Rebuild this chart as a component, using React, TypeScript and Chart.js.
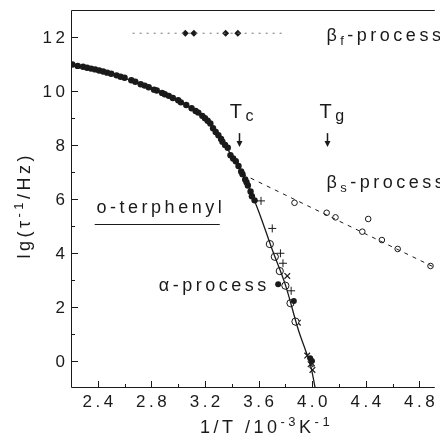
import React, { useEffect, useRef } from "react";
import { Chart, registerables } from "chart.js";
Chart.register(...registerables);

// ---- axis ticks ----
const xTicks = [2.4, 2.8, 3.2, 3.6, 4.0, 4.4, 4.8];
const xTickLabels = ["2.4", "2.8", "3.2", "3.6", "4.0", "4.4", "4.8"];
const xMinorTicks = [2.6, 3.0, 3.4, 3.8, 4.2, 4.6];
const yTicks = [0, 2, 4, 6, 8, 10, 12];
const yTickLabels = ["0", "2", "4", "6", "8", "10", "12"];
const yMinorTicks = [1, 3, 5, 7, 9, 11];

// ---- alpha process: VFT-like fit line ----
const alphaLineX = [2.2, 2.3, 2.4, 2.5, 2.6, 2.7, 2.8, 2.9, 3.0, 3.1, 3.2, 3.3, 3.4, 3.5, 3.6, 3.7, 3.8, 3.9, 3.95, 3.99, 4.022];
const alphaLineY = [11.0, 10.88, 10.76, 10.62, 10.48, 10.29, 10.09, 9.88, 9.64, 9.34, 8.97, 8.36, 7.6, 6.74, 5.55, 4.15, 2.82, 1.1, 0.4, -0.2, -1.0];

// ---- alpha process: filled circles (high temperature) ----
const alphaPtsX = [2.21, 2.25, 2.29, 2.32, 2.35, 2.38, 2.41, 2.44, 2.47, 2.50, 2.54, 2.57, 2.60, 2.65, 2.68, 2.72, 2.75, 2.78, 2.82, 2.84, 2.88, 2.90, 2.93, 2.96, 3.00, 3.02, 3.06, 3.10, 3.13, 3.15, 3.18, 3.20, 3.22, 3.24, 3.26, 3.28, 3.30, 3.32, 3.33, 3.35, 3.37, 3.39, 3.41, 3.43, 3.45, 3.47, 3.48, 3.50, 3.51, 3.52, 3.54, 3.55, 3.57];
const alphaPtsY = [10.98, 10.93, 10.90, 10.86, 10.83, 10.80, 10.76, 10.72, 10.68, 10.64, 10.58, 10.53, 10.49, 10.40, 10.34, 10.25, 10.20, 10.14, 10.05, 10.02, 9.93, 9.88, 9.82, 9.74, 9.66, 9.58, 9.48, 9.36, 9.26, 9.20, 9.08, 8.99, 8.90, 8.80, 8.62, 8.48, 8.36, 8.22, 8.12, 8.00, 7.90, 7.62, 7.50, 7.40, 7.22, 7.02, 6.92, 6.72, 6.62, 6.50, 6.28, 6.10, 5.95];

// ---- alpha process: low temperature data sets ----
const lowFilledX = [3.746, 3.863, 3.985, 3.998];
const lowFilledY = [2.84, 2.22, 0.10, 0.0];
const plusX = [3.618, 3.702, 3.763, 3.782, 3.843];
const plusY = [5.93, 4.91, 3.99, 3.62, 2.60];
const circPlusX = [3.684, 3.721, 3.758, 3.80, 3.838, 3.875];
const circPlusY = [4.33, 3.86, 3.33, 2.79, 2.14, 1.46];
const crossX = [3.814, 3.893, 3.963, 3.988, 3.998, 4.002];
const crossY = [3.15, 1.42, 0.20, -0.12, -0.09, -0.33];

// ---- beta_s process ----
const betaSX = [3.868, 4.108, 4.174, 4.418, 4.374, 4.52, 4.638, 4.883];
const betaSY = [5.86, 5.49, 5.32, 5.26, 4.79, 4.48, 4.15, 3.52];
const betaSLineX = [3.48, 4.92];
const betaSLineY = [6.92, 3.45];

// ---- beta_f process ----
const betaFX = [3.053, 3.117, 3.354, 3.445];
const betaFY = [12.14, 12.14, 12.14, 12.14];
const betaFLineX = [2.66, 3.78];
const betaFLineY = [12.14, 12.14];

// ---- annotations (data coordinates) ----
const Tc = 3.451;
const Tg = 4.113;

const INK = "#1a1a1a";
const FONT = "'Liberation Sans', Arial, sans-serif";
const LS = 3.5;

const pts = (xs: number[], ys: number[]) => xs.map((x, i) => ({ x, y: ys[i] }));

type Run = { t: string; size: number; dy: number };

function runsWidth(ctx: CanvasRenderingContext2D, runs: Run[]) {
  let w = 0;
  for (const r of runs) {
    ctx.font = `${r.size}px ${FONT}`;
    w += ctx.measureText(r.t).width;
  }
  return w - LS;
}

function drawRuns(ctx: CanvasRenderingContext2D, runs: Run[], x: number, y: number) {
  let cx = x;
  for (const r of runs) {
    ctx.font = `${r.size}px ${FONT}`;
    ctx.fillText(r.t, cx, y + r.dy);
    cx += ctx.measureText(r.t).width;
  }
}

const decoPlugin = {
  id: "deco",
  afterDatasetsDraw(chart: any) {
    const { ctx, chartArea, scales } = chart;
    const { left, right, top, bottom } = chartArea;
    const xs = scales.x;
    const ys = scales.y;
    ctx.save();
    (ctx as any).letterSpacing = LS + "px";
    ctx.strokeStyle = INK;
    ctx.fillStyle = INK;
    ctx.lineWidth = 1;
    ctx.textAlign = "left";
    ctx.textBaseline = "alphabetic";

    // frame
    ctx.beginPath();
    ctx.moveTo(right, top + 0.5);
    ctx.lineTo(left + 0.5, top + 0.5);
    ctx.lineTo(left + 0.5, bottom - 0.5);
    ctx.lineTo(right, bottom - 0.5);
    ctx.stroke();

    // ticks (inward)
    ctx.beginPath();
    for (const v of xTicks) {
      const p = Math.round(xs.getPixelForValue(v)) + 0.5;
      ctx.moveTo(p, bottom);
      ctx.lineTo(p, bottom - 7);
    }
    for (const v of xMinorTicks) {
      const p = Math.round(xs.getPixelForValue(v)) + 0.5;
      ctx.moveTo(p, bottom);
      ctx.lineTo(p, bottom - 4);
    }
    for (const v of yTicks) {
      const p = Math.round(ys.getPixelForValue(v)) + 0.5;
      ctx.moveTo(left, p);
      ctx.lineTo(left + 7, p);
    }
    for (const v of yMinorTicks) {
      const p = Math.round(ys.getPixelForValue(v)) + 0.5;
      ctx.moveTo(left, p);
      ctx.lineTo(left + 4, p);
    }
    ctx.stroke();

    // tick labels
    ctx.font = `17px ${FONT}`;
    xTicks.forEach((v, i) => {
      const t = xTickLabels[i];
      const w = ctx.measureText(t).width - LS;
      ctx.fillText(t, xs.getPixelForValue(v) - w / 2, bottom + 19);
    });
    yTicks.forEach((v, i) => {
      const t = yTickLabels[i];
      const w = ctx.measureText(t).width - LS;
      ctx.fillText(t, left - 6 - w, ys.getPixelForValue(v) + 6);
    });

    // x axis title
    drawRuns(
      ctx,
      [
        { t: "1/T /10", size: 18, dy: 0 },
        { t: "-3", size: 13, dy: -7 },
        { t: "K", size: 18, dy: 0 },
        { t: "-1", size: 13, dy: -7 },
      ],
      200,
      433
    );

    // y axis title (rotated)
    const yRuns: Run[] = [
      { t: "lg(τ", size: 18, dy: 0 },
      { t: "-1", size: 13, dy: -7 },
      { t: "/Hz)", size: 18, dy: 0 },
    ];
    const yw = runsWidth(ctx, yRuns);
    ctx.save();
    ctx.translate(30, 207);
    ctx.rotate(-Math.PI / 2);
    drawRuns(ctx, yRuns, -yw / 2, 0);
    ctx.restore();

    const px = (v: number) => xs.getPixelForValue(v);
    const py = (v: number) => ys.getPixelForValue(v);

    // process labels
    drawRuns(ctx, [{ t: "β", size: 18, dy: 0 }, { t: "f", size: 13, dy: 4 }, { t: "-process", size: 18, dy: 0 }], px(4.106), py(11.85));
    drawRuns(ctx, [{ t: "β", size: 18, dy: 0 }, { t: "s", size: 13, dy: 4 }, { t: "-process", size: 18, dy: 0 }], px(4.106), py(6.41));
    drawRuns(ctx, [{ t: "o-terphenyl", size: 18, dy: 0 }], px(2.391), py(5.48));
    drawRuns(ctx, [{ t: "α-process", size: 18, dy: 0 }], px(2.855), py(2.59));

    // underline
    ctx.beginPath();
    ctx.moveTo(px(2.377), Math.round(py(5.07)) + 0.5);
    ctx.lineTo(px(3.31), Math.round(py(5.07)) + 0.5);
    ctx.stroke();

    // Tc / Tg labels
    drawRuns(ctx, [{ t: "T", size: 20, dy: 0 }, { t: "c", size: 16, dy: 3 }], px(3.392) - 1, py(9.0));
    drawRuns(ctx, [{ t: "T", size: 20, dy: 0 }, { t: "g", size: 16, dy: 3 }], px(4.062) - 1, py(9.0));

    // arrows
    const arrow = (xv: number) => {
      const x0 = Math.round(px(xv)) + 0.5;
      const y1 = py(8.44);
      const y2 = py(7.93);
      ctx.lineWidth = 1.5;
      ctx.beginPath();
      ctx.moveTo(x0, y1);
      ctx.lineTo(x0, y2 - 4);
      ctx.stroke();
      ctx.beginPath();
      ctx.moveTo(x0 - 3, y2 - 6);
      ctx.lineTo(x0 + 3, y2 - 6);
      ctx.lineTo(x0, y2);
      ctx.closePath();
      ctx.fill();
      ctx.lineWidth = 1;
    };
    arrow(Tc);
    arrow(Tg);

    ctx.restore();
  },
};

export default function App() {
  const ref = useRef<HTMLCanvasElement | null>(null);
  useEffect(() => {
    document.body.style.margin = "0";
    const canvas = ref.current;
    if (!canvas) return;
    const chart = new Chart(canvas, {
      type: "scatter",
      data: {
        datasets: [
          {
            type: "line",
            data: pts(alphaLineX, alphaLineY),
            borderColor: INK,
            borderWidth: 1.3,
            pointRadius: 0,
            cubicInterpolationMode: "monotone",
            fill: false,
          } as any,
          {
            type: "line",
            data: pts(betaSLineX, betaSLineY),
            borderColor: INK,
            borderWidth: 1,
            borderDash: [4, 5],
            pointRadius: 0,
            fill: false,
          } as any,
          {
            type: "line",
            data: pts(betaFLineX, betaFLineY),
            borderColor: "#777",
            borderWidth: 1,
            borderDash: [2, 5],
            pointRadius: 0,
            fill: false,
          } as any,
          {
            data: pts(alphaPtsX, alphaPtsY),
            pointStyle: "circle",
            pointRadius: 3.2,
            backgroundColor: INK,
            borderColor: INK,
            borderWidth: 0,
          },
          {
            data: pts(lowFilledX, lowFilledY),
            pointStyle: "circle",
            pointRadius: 3,
            backgroundColor: INK,
            borderColor: INK,
            borderWidth: 0,
          },
          {
            data: pts(plusX, plusY),
            pointStyle: "cross",
            pointRadius: 4,
            borderColor: INK,
            borderWidth: 1,
          },
          {
            data: pts(circPlusX, circPlusY),
            pointStyle: "circle",
            pointRadius: 3.6,
            backgroundColor: "#fff",
            borderColor: INK,
            borderWidth: 1,
          },
          {
            data: pts(circPlusX, circPlusY),
            pointStyle: "cross",
            pointRadius: 3.6,
            borderColor: INK,
            borderWidth: 1,
          },
          {
            data: pts(crossX, crossY),
            pointStyle: "crossRot",
            pointRadius: 4,
            borderColor: INK,
            borderWidth: 1.2,
          },
          {
            data: pts(betaSX, betaSY),
            pointStyle: "circle",
            pointRadius: 2.8,
            backgroundColor: "#fff",
            borderColor: INK,
            borderWidth: 1,
          },
          {
            data: pts(betaFX, betaFY),
            pointStyle: "rectRot",
            pointRadius: 3.5,
            backgroundColor: INK,
            borderColor: INK,
            borderWidth: 0,
          },
        ],
      },
      options: {
        responsive: false,
        animation: false,
        devicePixelRatio: 1,
        layout: { padding: { top: 10, right: 0, left: 0, bottom: 0 } },
        plugins: { legend: { display: false }, tooltip: { enabled: false } },
        scales: {
          x: {
            type: "linear",
            min: 2.2,
            max: 4.915,
            grid: { display: false, drawTicks: false },
            border: { display: false },
            ticks: { display: false },
            afterFit: (s: any) => {
              s.height = 48;
            },
          },
          y: {
            type: "linear",
            min: -1,
            max: 13,
            grid: { display: false, drawTicks: false },
            border: { display: false },
            ticks: { display: false },
            afterFit: (s: any) => {
              s.width = 71;
            },
          },
        },
      } as any,
      plugins: [decoPlugin],
    });
    return () => chart.destroy();
  }, []);
  return <canvas ref={ref} width={440} height={436} style={{ display: "block" }} />;
}
